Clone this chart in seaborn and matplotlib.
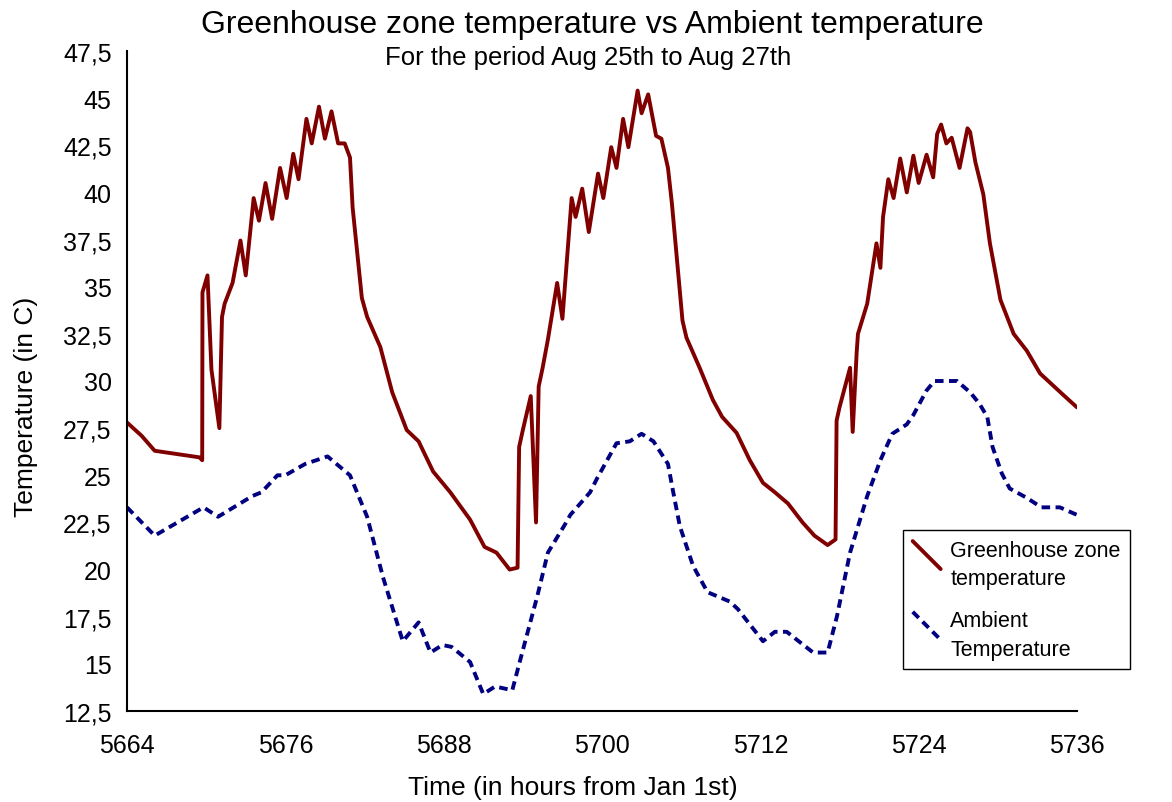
import matplotlib
matplotlib.use("Agg")
import pandas as pd
import seaborn as sns
import matplotlib.pyplot as plt
import matplotlib.ticker as tkr
from matplotlib.lines import Line2D
from matplotlib.legend_handler import HandlerLine2D

# greenhouse zone temperature (hours from Jan 1st, deg C)
gh_hours = [5664.0, 5665.1, 5666.1, 5669.5, 5669.7, 5669.72, 5670.1, 5670.4, 5671.0, 5671.2,
            5671.4, 5672.0, 5672.6, 5673.0, 5673.6, 5674.0, 5674.5, 5675.0, 5675.6, 5676.1,
            5676.6, 5677.0, 5677.6, 5678.0, 5678.55, 5679.0, 5679.5, 5680.0, 5680.5, 5680.9,
            5681.1, 5681.8, 5682.2, 5683.2, 5684.1, 5685.2, 5686.1, 5687.2, 5688.5, 5690.0,
            5691.1, 5692.0, 5693.0, 5693.6, 5693.72, 5694.0, 5694.6, 5695.0, 5695.2, 5695.5,
            5695.9, 5696.6, 5697.0, 5697.7, 5698.0, 5698.5, 5699.0, 5699.7, 5700.1, 5700.7,
            5701.1, 5701.6, 5702.0, 5702.7, 5703.0, 5703.5, 5704.1, 5704.5, 5705.0, 5705.3,
            5706.1, 5706.4, 5707.4, 5708.4, 5709.1, 5710.2, 5711.2, 5712.2, 5713.1, 5714.1,
            5715.2, 5716.1, 5717.1, 5717.7, 5717.78, 5718.0, 5718.8, 5719.0, 5719.3, 5719.4,
            5720.1, 5720.8, 5721.1, 5721.3, 5721.7, 5722.1, 5722.6, 5723.1, 5723.6, 5724.0,
            5724.6, 5725.1, 5725.4, 5725.7, 5726.1, 5726.5, 5727.1, 5727.7, 5727.9, 5728.3,
            5728.9, 5729.4, 5730.2, 5731.2, 5732.2, 5733.2, 5734.9, 5736.0]
gh_temp = [27.8, 27.1, 26.3, 25.95, 25.8, 34.7, 35.6, 30.6, 27.5, 33.4,
           34.1, 35.2, 37.45, 35.6, 39.7, 38.5, 40.5, 38.6, 41.3, 39.7,
           42.05, 40.7, 43.9, 42.6, 44.55, 42.85, 44.3, 42.6, 42.6, 41.85,
           39.2, 34.4, 33.4, 31.8, 29.4, 27.4, 26.8, 25.2, 24.1, 22.65,
           21.2, 20.9, 20.0, 20.1, 26.5, 27.4, 29.2, 22.5, 29.7, 30.7,
           32.2, 35.2, 33.3, 39.7, 38.7, 40.2, 37.9, 41.0, 39.7, 42.4,
           41.3, 43.9, 42.4, 45.4, 44.2, 45.2, 43.0, 42.85, 41.3, 39.4,
           33.2, 32.3, 30.7, 29.0, 28.1, 27.25, 25.8, 24.6, 24.1, 23.5,
           22.5, 21.8, 21.3, 21.6, 27.9, 28.6, 30.7, 27.3, 31.5, 32.5,
           34.1, 37.3, 36.0, 38.7, 40.7, 39.7, 41.8, 40.0, 41.95, 40.5,
           42.0, 40.8, 43.1, 43.6, 42.6, 42.9, 41.3, 43.4, 43.2, 41.6,
           39.9, 37.3, 34.3, 32.5, 31.6, 30.4, 29.3, 28.6]

# ambient temperature
amb_hours = [5664.0, 5666.1, 5669.8, 5670.9, 5673.5, 5674.2, 5675.4, 5676.0, 5677.5, 5679.2,
             5680.9, 5682.2, 5683.4, 5684.9, 5686.1, 5687.0, 5687.9, 5688.6, 5690.0, 5691.0,
             5691.9, 5693.2, 5693.8, 5695.1, 5695.9, 5697.2, 5697.6, 5699.1, 5699.6, 5701.1,
             5702.1, 5703.0, 5703.9, 5705.0, 5705.4, 5705.9, 5706.9, 5708.0, 5709.7, 5710.3,
             5712.2, 5713.1, 5714.0, 5716.0, 5717.1, 5717.8, 5718.8, 5720.1, 5721.1, 5722.0,
             5723.1, 5723.6, 5724.6, 5725.2, 5726.9, 5727.9, 5728.6, 5729.2, 5729.6, 5730.3,
             5730.9, 5732.2, 5733.3, 5734.7, 5736.0]
amb_temp = [23.3, 21.8, 23.3, 22.8, 23.9, 24.1, 25.0, 25.0, 25.6, 26.0,
            25.0, 22.8, 19.6, 16.2, 17.2, 15.6, 16.0, 15.9, 15.1, 13.4,
            13.8, 13.6, 15.2, 18.6, 20.9, 22.4, 22.9, 24.1, 24.8, 26.7,
            26.8, 27.2, 26.8, 25.6, 24.1, 22.3, 20.2, 18.8, 18.3, 17.9,
            16.2, 16.7, 16.7, 15.6, 15.6, 17.5, 20.9, 23.9, 25.8, 27.2,
            27.7, 28.2, 29.5, 30.0, 30.0, 29.4, 28.8, 28.1, 26.5, 25.1,
            24.3, 23.8, 23.3, 23.3, 22.9]

x_ticks = [5664, 5676, 5688, 5700, 5712, 5724, 5736]
y_ticks = [12.5, 15, 17.5, 20, 22.5, 25, 27.5, 30, 32.5, 35, 37.5, 40, 42.5, 45, 47.5]

GH_COLOR = "#800000"
AMB_COLOR = "#000080"


class DiagonalHandler(HandlerLine2D):
    # excel style legend key: a short diagonal stroke
    def create_artists(self, legend, orig_handle, xdescent, ydescent,
                       width, height, fontsize, trans):
        top = height + 0.75 * fontsize
        line = Line2D([-xdescent, -xdescent + width], [top, top - width])
        self.update_prop(line, orig_handle, legend)
        line.set_transform(trans)
        return [line]


def main():
    sns.set_style("white")
    plt.rcParams["font.family"] = ["Liberation Sans", "DejaVu Sans"]
    plt.rcParams["text.color"] = "black"
    plt.rcParams["axes.labelcolor"] = "black"
    plt.rcParams["xtick.labelcolor"] = "black"
    plt.rcParams["ytick.labelcolor"] = "black"

    gh_df = pd.DataFrame({"hours": gh_hours, "temp": gh_temp})
    amb_df = pd.DataFrame({"hours": amb_hours, "temp": amb_temp})

    fig = plt.figure(figsize=(11.72, 8.03), dpi=100)
    ax = fig.add_axes([127 / 1172, 1 - 712 / 803, 950 / 1172, 660 / 803])

    sns.lineplot(x="hours", y="temp", data=gh_df, ax=ax, estimator=None, sort=False,
                 color=GH_COLOR, linewidth=2.8, solid_joinstyle="round",
                 label="Greenhouse zone\ntemperature")
    sns.lineplot(x="hours", y="temp", data=amb_df, ax=ax, estimator=None, sort=False,
                 color=AMB_COLOR, linewidth=2.8, linestyle=(0, (2.2, 1.4)),
                 label="Ambient\nTemperature")

    ax.set_xlim(5664, 5736)
    ax.set_ylim(12.5, 47.5)
    ax.set_xticks(x_ticks)
    ax.set_yticks(y_ticks)
    ax.yaxis.set_major_formatter(tkr.FuncFormatter(lambda v, p: f"{v:g}".replace(".", ",")))

    for side in ["top", "right"]:
        ax.spines[side].set_visible(False)
    for side in ["left", "bottom"]:
        ax.spines[side].set_color("black")
        ax.spines[side].set_linewidth(1.5)
    ax.tick_params(axis="x", direction="out", length=8, width=1, color="#808080",
                   labelsize=18, pad=8)
    ax.tick_params(axis="y", direction="out", length=4, width=1, color="#808080",
                   labelsize=18, pad=7)
    ax.grid(False)

    ax.set_xlabel("Time (in hours from Jan 1st)", fontsize=19)
    ax.set_ylabel("Temperature (in C)", fontsize=19)
    ax.xaxis.set_label_coords((573 - 127) / 950, -(776 - 712) / 660)
    ax.yaxis.set_label_coords(-(127 - 38) / 950, (712 - 407) / 660)

    fig.text(592 / 1172, 1 - 25 / 803, "Greenhouse zone temperature vs Ambient temperature",
             ha="center", va="center", fontsize=23)
    fig.text(588 / 1172, 1 - 58 / 803, "For the period Aug 25th to Aug 27th",
             ha="center", va="center", fontsize=18.5)

    leg = ax.legend(loc="upper left", bbox_to_anchor=(903 / 1172, 1 - 531 / 803),
                    bbox_transform=fig.transFigure, borderaxespad=0, fontsize=15.5,
                    frameon=True, fancybox=False, edgecolor="black", framealpha=1,
                    handlelength=1.3, handletextpad=0.45, labelspacing=1.0,
                    borderpad=0.45,
                    handler_map={Line2D: DiagonalHandler()})
    leg.get_frame().set_linewidth(1.0)
    for t in leg.get_texts():
        t.set_linespacing(1.45)

    fig.savefig("out.png", dpi=100)


if __name__ == "__main__":
    main()
